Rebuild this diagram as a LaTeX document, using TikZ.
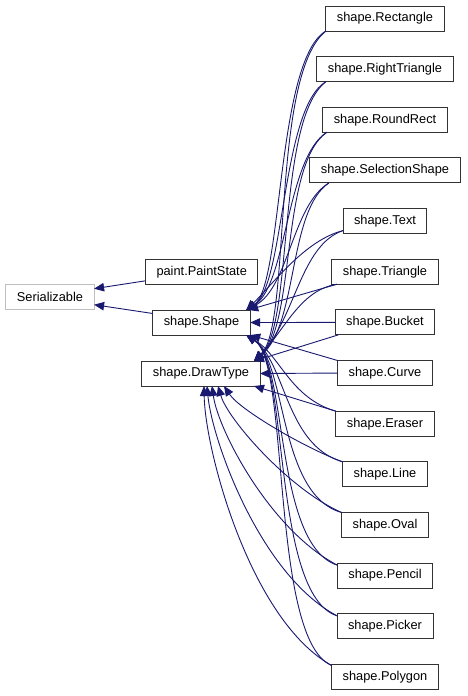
\documentclass[tikz,border=0pt]{standalone}
\usepackage{fontspec}
\setmainfont{Liberation Sans}
\usetikzlibrary{arrows.meta, positioning}
\definecolor{edgeblue}{HTML}{191970}

\begin{document}
\begin{tikzpicture}[
    x=1pt, y=-1pt,
    node distance=25.65pt,
    font=\fontsize{12.8}{15}\selectfont,
    cls/.style={rectangle, draw=black!80, line width=1pt, fill=white, minimum height=25pt, inner xsep=11pt, inner ysep=0pt, outer sep=0pt, text centered},
    extcls/.style={cls, draw=black!25},
    arrow/.style={draw=edgeblue, line width=0.9pt, -{Triangle[length=10pt, width=8.5pt]}},
]
    \useasboundingbox (0,0) rectangle (467,696);

    % base classes
    \node (serial) [extcls] at (50,296.7) {Serializable};
    \node (paintstate) [cls] at (201.7,271.8) {paint.PaintState};
    \node (shape) [cls] at (201.5,322.5) {shape.Shape};
    \node (drawtype) [cls] at (201,373.5) {shape.DrawType};

    % derived shapes
    \node (rect) [cls] at (385,18.5) {shape.Rectangle};
    \node (rtri) [cls, below=of rect] {shape.RightTriangle};
    \node (rrect) [cls, below=of rtri] {shape.RoundRect};
    \node (selshape) [cls, below=of rrect] {shape.SelectionShape};
    \node (text) [cls, below=of selshape] {shape.Text};
    \node (tri) [cls, below=of text] {shape.Triangle};
    \node (bucket) [cls, below=of tri] {shape.Bucket};
    \node (curve) [cls, below=of bucket] {shape.Curve};
    \node (eraser) [cls, below=of curve] {shape.Eraser};
    \node (line) [cls, below=of eraser] {shape.Line};
    \node (oval) [cls, below=of line] {shape.Oval};
    \node (pencil) [cls, below=of oval] {shape.Pencil};
    \node (picker) [cls, below=of pencil] {shape.Picker};
    \node (polygon) [cls, below=of picker] {shape.Polygon};

    \draw [arrow] ([yshift=-9pt]paintstate.west) -- ([yshift=8pt]serial.east);
    \draw [arrow] ([yshift=9pt]shape.west) -- ([yshift=-8pt]serial.east);

    % upper shapes
    \draw [arrow] (rect.south west) .. controls (276,60) and (283,285) .. ([xshift=-4pt]shape.north east);
    \draw [arrow] ([xshift=9pt]rtri.south west) .. controls (281,108) and (285,285) .. ([xshift=-4pt]shape.north east);
    \draw [arrow] ([xshift=4pt]rrect.south west) .. controls (286,158) and (287,285) .. ([xshift=-4pt]shape.north east);
    \draw [arrow] ([xshift=19pt]selshape.south west) .. controls (292,205) and (289,288) .. ([xshift=-4pt]shape.north east);
    \draw [arrow] ([yshift=3pt]text.south west) .. controls (305,240) and (272,285) .. ([xshift=-4pt]shape.north east);
    \draw [arrow] (rect.south west) .. controls (270,75) and (292,325) .. ([xshift=-6pt]drawtype.north east);
    \draw [arrow] ([xshift=9pt]rtri.south west) .. controls (276,120) and (294,325) .. ([xshift=-6pt]drawtype.north east);
    \draw [arrow] ([xshift=4pt]rrect.south west) .. controls (280,165) and (296,325) .. ([xshift=-6pt]drawtype.north east);
    \draw [arrow] ([xshift=19pt]selshape.south west) .. controls (288,210) and (298,325) .. ([xshift=-6pt]drawtype.north east);
    \draw [arrow] ([yshift=3pt]text.south west) .. controls (300,245) and (295,320) .. ([xshift=-6pt]drawtype.north east);

    % middle shapes
    \draw [arrow] ([xshift=5pt]tri.south west) -- ([xshift=-2pt]shape.north east);
    \draw [arrow] ([xshift=5pt]tri.south west) .. controls (300,290) and (285,330) .. ([xshift=-6pt]drawtype.north east);
    \draw [arrow] (bucket.west) -- (shape.east);
    \draw [arrow] ([xshift=3pt]bucket.south west) -- ([xshift=-6pt]drawtype.north east);
    \draw [arrow] (curve.north west) -- (shape.south east);
    \draw [arrow] (curve.west) -- (drawtype.east);
    \draw [arrow] (eraser.north west) .. controls (290,398) and (280,355) .. ([xshift=-4pt]shape.south east);
    \draw [arrow] (eraser.north west) -- ([xshift=-6pt]drawtype.south east);

    % lower shapes
    \draw [arrow] (line.north west) .. controls (285,445) and (286,362) .. ([xshift=-4pt]shape.south east);
    \draw [arrow] (oval.north west) .. controls (278,495) and (287,362) .. ([xshift=-4pt]shape.south east);
    \draw [arrow] ([yshift=-2pt]pencil.north west) .. controls (274,545) and (288,362) .. ([xshift=-4pt]shape.south east);
    \draw [arrow] ([yshift=-2pt]picker.north west) .. controls (272,595) and (289,362) .. ([xshift=-4pt]shape.south east);
    \draw [arrow] ([yshift=-1pt]polygon.north west) .. controls (270,640) and (290,362) .. ([xshift=-4pt]shape.south east);
    \draw [arrow] (line.north west) .. controls (305,448) and (240,410) .. ([xshift=23pt]drawtype.south);
    \draw [arrow] (oval.north west) .. controls (290,490) and (228,420) .. ([xshift=17pt]drawtype.south);
    \draw [arrow] ([yshift=-2pt]pencil.north west) .. controls (270,530) and (218,430) .. ([xshift=11pt]drawtype.south);
    \draw [arrow] ([yshift=-2pt]picker.north west) .. controls (260,575) and (212,440) .. ([xshift=6pt]drawtype.south);
    \draw [arrow] ([yshift=-1pt]polygon.north west) .. controls (250,620) and (205,450) .. ([xshift=3pt]drawtype.south);

\end{tikzpicture}
\end{document}
